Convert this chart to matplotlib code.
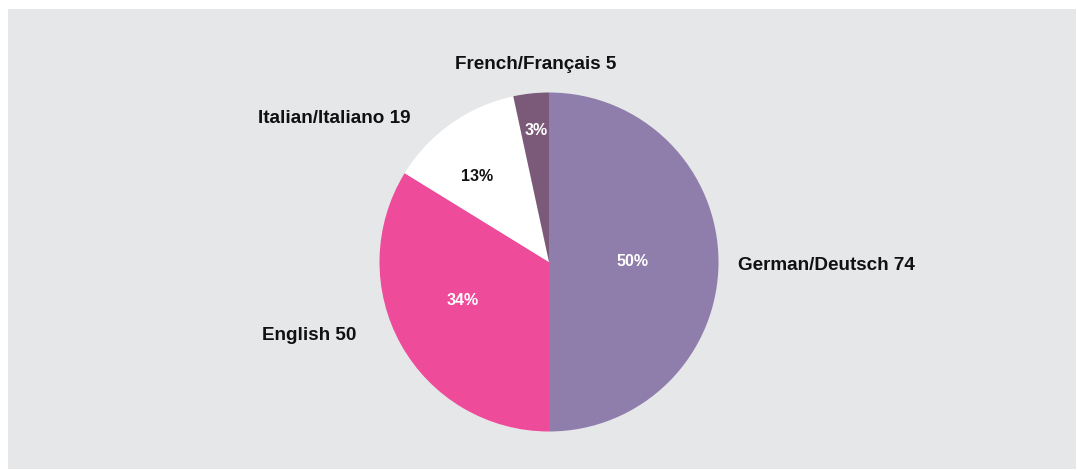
import numpy as np
import matplotlib
matplotlib.use("Agg")
import matplotlib.pyplot as plt
from matplotlib.patches import Rectangle

# Data
languages = ["German/Deutsch", "English", "Italian/Italiano", "French/Français"]
counts = [74, 50, 19, 5]
colors = ["#8f7dab", "#ef4b9b", "#ffffff", "#7a5a78"]
pct_colors = ["#ffffff", "#ffffff", "#111111", "#ffffff"]

plt.rcParams['font.family'] = ['Liberation Sans', 'DejaVu Sans']

W, H = 1077, 470
fig = plt.figure(figsize=(W / 100, H / 100), dpi=100, facecolor="white")
bg = fig.add_axes([0, 0, 1, 1], zorder=0)
bg.axis('off')
bg.set_xlim(0, W)
bg.set_ylim(0, H)
bg.add_patch(Rectangle((8, 1), 1068, 460, facecolor="#e6e7e9", edgecolor="none"))

ax = fig.add_axes([0, 0, 1, 1], zorder=1)
ax.set_facecolor("none")

cx, cy, R = 549, 208, 169.5  # pixel center (from bottom) and radius
wedges, _ = ax.pie(counts, colors=colors, startangle=90, counterclock=False,
                   wedgeprops=dict(linewidth=0))
ax.set_xlim(-cx / R, (W - cx) / R)
ax.set_ylim(-cy / R, (H - cy) / R)
ax.set_aspect('auto')
ax.axis('off')

total = sum(counts)
pct_pos = [(0.49, 0.0), (-0.507, -0.23), (-0.425, 0.507), (-0.077, 0.773)]
for (x, y), n, c in zip(pct_pos, counts, pct_colors):
    ax.text(x, y, f"{round(100 * n / total)}%",
            ha="center", va="center", fontsize=11.5, fontweight="bold", color=c)

label_pos = [(1.115, -0.018, "left"), (-1.139, -0.431, "right"),
             (-0.814, 0.844, "right"), (-0.077, 1.168, "center")]
for (x, y, ha), name, n in zip(label_pos, languages, counts):
    ax.text(x, y, f"{name} {n}", ha=ha, va="center", fontsize=13.6,
            fontweight="bold", color="#111111")

fig.savefig("out.png", dpi=100, facecolor="white")
